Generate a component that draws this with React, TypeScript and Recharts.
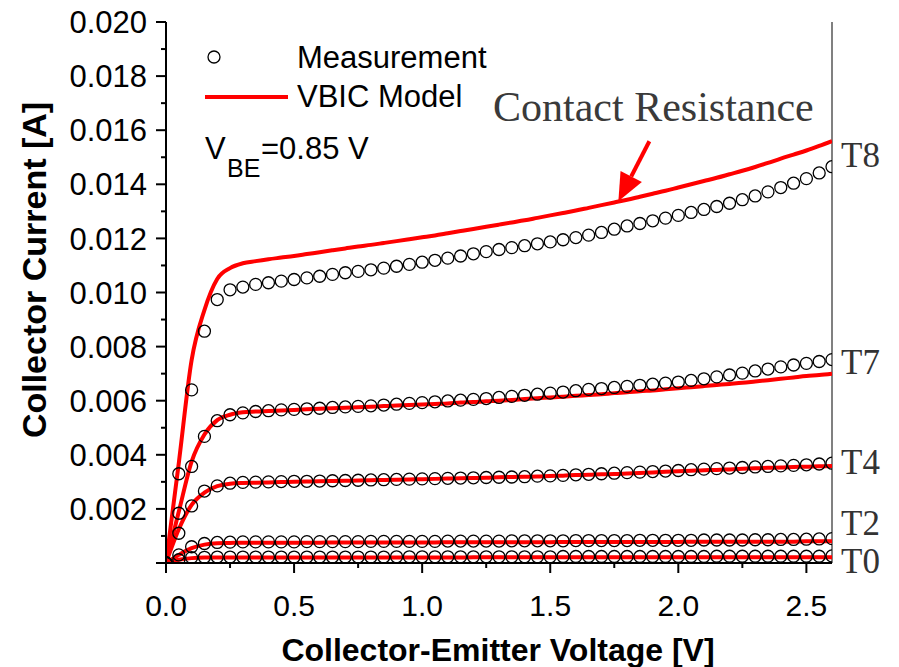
import { ComposedChart, Line, XAxis, YAxis, ReferenceLine } from 'recharts';

// collector-emitter voltage grid [V]
const VCE = [
  0, 0.05, 0.1, 0.15, 0.2, 0.25, 0.3, 0.35, 0.4, 0.45,
  0.5, 0.55, 0.6, 0.65, 0.7, 0.75, 0.8, 0.85, 0.9, 0.95,
  1.0, 1.05, 1.1, 1.15, 1.2, 1.25, 1.3, 1.35, 1.4, 1.45,
  1.5, 1.55, 1.6, 1.65, 1.7, 1.75, 1.8, 1.85, 1.9, 1.95,
  2.0, 2.05, 2.1, 2.15, 2.2, 2.25, 2.3, 2.35, 2.4, 2.45,
  2.5, 2.55, 2.6,
];

// measured collector current [mA]
const MEAS_T0 = [
  0, 0.12, 0.2, 0.21, 0.22, 0.22, 0.22, 0.22, 0.22, 0.22,
  0.22, 0.22, 0.22, 0.22, 0.22, 0.22, 0.22, 0.22, 0.23, 0.23,
  0.23, 0.23, 0.23, 0.23, 0.23, 0.23, 0.23, 0.23, 0.23, 0.23,
  0.23, 0.24, 0.24, 0.24, 0.24, 0.24, 0.24, 0.24, 0.24, 0.24,
  0.24, 0.24, 0.24, 0.25, 0.25, 0.25, 0.25, 0.25, 0.25, 0.25,
  0.25, 0.25, 0.26,
];
const MEAS_T2 = [
  0, 0.3, 0.6, 0.72, 0.76, 0.77, 0.78, 0.78, 0.78, 0.78,
  0.78, 0.79, 0.79, 0.79, 0.79, 0.79, 0.8, 0.8, 0.8, 0.8,
  0.8, 0.8, 0.81, 0.81, 0.81, 0.81, 0.81, 0.82, 0.82, 0.82,
  0.82, 0.82, 0.83, 0.83, 0.83, 0.83, 0.83, 0.84, 0.84, 0.84,
  0.84, 0.84, 0.85, 0.85, 0.85, 0.85, 0.86, 0.86, 0.87, 0.87,
  0.88, 0.89, 0.9,
];
const MEAS_T4 = [
  0, 1.1, 2.11, 2.66, 2.85, 2.95, 2.98, 2.99, 3.0, 3.01,
  3.02, 3.02, 3.03, 3.04, 3.05, 3.06, 3.07, 3.08, 3.09, 3.1,
  3.11, 3.12, 3.13, 3.14, 3.15, 3.16, 3.17, 3.18, 3.19, 3.21,
  3.22, 3.24, 3.26, 3.28, 3.3, 3.32, 3.34, 3.36, 3.38, 3.4,
  3.42, 3.45, 3.47, 3.49, 3.51, 3.53, 3.55, 3.57, 3.59, 3.61,
  3.63, 3.66, 3.69,
];
const MEAS_T7 = [
  0, 1.84, 3.57, 4.68, 5.26, 5.48, 5.55, 5.6, 5.63, 5.66,
  5.68, 5.7, 5.72, 5.75, 5.77, 5.79, 5.81, 5.84, 5.87, 5.9,
  5.93, 5.96, 5.99, 6.02, 6.05, 6.08, 6.12, 6.16, 6.2, 6.24,
  6.28, 6.32, 6.37, 6.42, 6.45, 6.49, 6.53, 6.57, 6.61, 6.65,
  6.69, 6.75, 6.81, 6.88, 6.95, 7.02, 7.1, 7.17, 7.25, 7.32,
  7.38, 7.45, 7.52,
];
const MEAS_T8 = [
  0, 3.3, 6.4, 8.57, 9.74, 10.1, 10.2, 10.3, 10.36, 10.42,
  10.48, 10.54, 10.6, 10.67, 10.73, 10.78, 10.84, 10.9, 10.97, 11.04,
  11.12, 11.19, 11.27, 11.35, 11.43, 11.51, 11.59, 11.66, 11.73, 11.8,
  11.87, 11.95, 12.03, 12.12, 12.22, 12.34, 12.46, 12.55, 12.65, 12.75,
  12.85, 12.96, 13.07, 13.18, 13.3, 13.43, 13.57, 13.72, 13.88, 14.04,
  14.21, 14.42, 14.65,
];

// VBIC model collector current [mA]
const VBIC_T0 = [
  0, 0.12, 0.18, 0.2, 0.2, 0.2, 0.2, 0.2, 0.2, 0.2,
  0.2, 0.2, 0.2, 0.2, 0.2, 0.2, 0.2, 0.2, 0.2, 0.2,
  0.2, 0.2, 0.2, 0.2, 0.21, 0.21, 0.21, 0.21, 0.21, 0.21,
  0.21, 0.21, 0.21, 0.21, 0.21, 0.21, 0.21, 0.21, 0.21, 0.21,
  0.21, 0.21, 0.21, 0.21, 0.21, 0.21, 0.21, 0.21, 0.21, 0.21,
  0.21, 0.21, 0.21,
];
const VBIC_T2 = [
  0, 0.3, 0.55, 0.68, 0.73, 0.74, 0.75, 0.75, 0.75, 0.75,
  0.75, 0.75, 0.75, 0.76, 0.76, 0.76, 0.76, 0.76, 0.76, 0.76,
  0.76, 0.76, 0.77, 0.77, 0.77, 0.77, 0.77, 0.77, 0.77, 0.77,
  0.77, 0.78, 0.78, 0.78, 0.78, 0.78, 0.78, 0.78, 0.78, 0.78,
  0.78, 0.79, 0.79, 0.79, 0.79, 0.79, 0.79, 0.79, 0.79, 0.79,
  0.8, 0.8, 0.8,
];
const VBIC_T4 = [
  0, 1.25, 2.15, 2.6, 2.84, 2.93, 2.96, 2.97, 2.98, 2.99,
  3.0, 3.01, 3.02, 3.03, 3.04, 3.05, 3.06, 3.07, 3.08, 3.09,
  3.1, 3.11, 3.12, 3.13, 3.14, 3.15, 3.17, 3.18, 3.19, 3.2,
  3.22, 3.23, 3.25, 3.26, 3.28, 3.29, 3.31, 3.33, 3.35, 3.37,
  3.39, 3.41, 3.43, 3.44, 3.46, 3.48, 3.5, 3.52, 3.53, 3.55,
  3.56, 3.58, 3.59,
];
const VBIC_T7 = [
  0, 1.9, 3.75, 4.75, 5.28, 5.48, 5.57, 5.6, 5.62, 5.64,
  5.66, 5.68, 5.7, 5.72, 5.74, 5.76, 5.78, 5.8, 5.82, 5.84,
  5.86, 5.88, 5.9, 5.93, 5.95, 5.98, 6.0, 6.03, 6.06, 6.09,
  6.12, 6.15, 6.18, 6.21, 6.24, 6.28, 6.31, 6.35, 6.38, 6.42,
  6.46, 6.5, 6.54, 6.58, 6.62, 6.66, 6.71, 6.76, 6.81, 6.86,
  6.91, 6.95, 7.0,
];
const VBIC_T8 = [
  0, 3.7, 7.5, 9.35, 10.5, 10.9, 11.08, 11.16, 11.23, 11.29,
  11.35, 11.42, 11.49, 11.56, 11.63, 11.7, 11.76, 11.83, 11.9, 11.97,
  12.04, 12.11, 12.19, 12.27, 12.35, 12.43, 12.51, 12.59, 12.67, 12.76,
  12.85, 12.94, 13.03, 13.13, 13.23, 13.33, 13.43, 13.54, 13.65, 13.76,
  13.88, 14.0, 14.12, 14.24, 14.37, 14.5, 14.64, 14.79, 14.95, 15.1,
  15.25, 15.42, 15.6,
];

const X_TICKS = [0, 0.25, 0.5, 0.75, 1.0, 1.25, 1.5, 1.75, 2.0, 2.25, 2.5];
const Y_TICKS = [0, 1, 2, 3, 4, 5, 6, 7, 8, 9, 10, 11, 12, 13, 14, 15, 16, 17, 18, 19, 20];

// curve end labels: [label, current level in mA where the label sits]
const CURVE_LABELS = [
  { name: 'T8', y: 15.1 },
  { name: 'T7', y: 7.45 },
  { name: 'T4', y: 3.75 },
  { name: 'T2', y: 1.5 },
  { name: 'T0', y: 0.1 },
];

const SANS = "'Liberation Sans', Arial, Helvetica, sans-serif";
const SERIF = "'Liberation Serif', 'Times New Roman', Times, serif";
const RED = '#ff0000';

const rows = VCE.map((v, i) => ({
  v,
  m0: MEAS_T0[i], m2: MEAS_T2[i], m4: MEAS_T4[i], m7: MEAS_T7[i], m8: MEAS_T8[i],
  s0: VBIC_T0[i], s2: VBIC_T2[i], s4: VBIC_T4[i], s7: VBIC_T7[i], s8: VBIC_T8[i],
}));

const XTick = (props: any) => {
  const { x, y, payload } = props;
  const v = payload.value;
  const major = Math.abs(v * 2 - Math.round(v * 2)) < 1e-6;
  return (
    <g>
      <line x1={x} x2={x} y1={y} y2={y + (major ? 10 : 5)} stroke="#000" strokeWidth={2} />
      {major && (
        <text x={x} y={y + 53} textAnchor="middle" fontSize={30} fontFamily={SANS} fill="#000">
          {v.toFixed(1)}
        </text>
      )}
    </g>
  );
};

const YTick = (props: any) => {
  const { x, y, payload } = props;
  const v = payload.value;
  const major = v % 2 === 0;
  return (
    <g>
      <line x1={x - (major ? 10 : 5)} x2={x} y1={y} y2={y} stroke="#000" strokeWidth={2} />
      {major && v > 0 && (
        <text x={x - 19} y={y} dy="0.36em" textAnchor="end" fontSize={31} fontFamily={SANS} fill="#000">
          {(v / 1000).toFixed(3)}
        </text>
      )}
    </g>
  );
};

// arrow pointing at the T8 model curve
const Arrow = (props: any) => {
  const { x1, y1, x2, y2 } = props;
  const dx = x2 - x1;
  const dy = y2 - y1;
  const len = Math.sqrt(dx * dx + dy * dy);
  const ux = dx / len;
  const uy = dy / len;
  const bx = x2 - ux * 28;
  const by = y2 - uy * 28;
  const hw = 12;
  return (
    <g>
      <line x1={x1} y1={y1} x2={bx} y2={by} stroke={RED} strokeWidth={4} />
      <polygon
        points={`${x2},${y2} ${bx - uy * hw},${by + ux * hw} ${bx + uy * hw},${by - ux * hw}`}
        fill={RED}
      />
    </g>
  );
};

const meas = ['m0', 'm2', 'm4', 'm7', 'm8'];
const model = ['s0', 's2', 's4', 's7', 's8'];

export default function App() {
  return (
    <div style={{ position: 'absolute', left: 0, top: 0, width: 899, height: 667, background: '#fff' }}>
      <ComposedChart width={899} height={667} data={rows} margin={{ top: 22, right: 67, left: 66, bottom: 44 }}>
        <XAxis
          dataKey="v"
          type="number"
          domain={[0, 2.6]}
          ticks={X_TICKS}
          interval={0}
          allowDataOverflow
          height={60}
          tickSize={0}
          tickMargin={0}
          tickLine={false}
          axisLine={{ stroke: '#000', strokeWidth: 2 }}
          tick={XTick}
        />
        <YAxis
          type="number"
          domain={[0, 20]}
          ticks={Y_TICKS}
          interval={0}
          allowDataOverflow
          width={100}
          tickSize={0}
          tickMargin={0}
          tickLine={false}
          axisLine={{ stroke: '#000', strokeWidth: 2 }}
          tick={YTick}
        />
        <ReferenceLine x={2.6} stroke="#808080" strokeWidth={2} ifOverflow="visible" />
        {meas.map((k) => (
          <Line
            key={k}
            dataKey={k}
            stroke="none"
            isAnimationActive={false}
            activeDot={false}
            dot={{ r: 6, stroke: '#000', strokeWidth: 1.3, fill: 'none' }}
          />
        ))}
        {model.map((k) => (
          <Line
            key={k}
            dataKey={k}
            type="monotone"
            stroke={RED}
            strokeWidth={4}
            dot={false}
            activeDot={false}
            isAnimationActive={false}
          />
        ))}
        <ReferenceLine
          segment={[{ x: 1.887, y: 15.59 }, { x: 1.766, y: 13.37 }]}
          ifOverflow="visible"
          shape={Arrow}
        />
      </ComposedChart>
      <svg
        width={899}
        height={667}
        style={{ position: 'absolute', left: 0, top: 0, pointerEvents: 'none' }}
      >
        {/* legend */}
        <circle cx={214} cy={57} r={6} stroke="#000" strokeWidth={1.3} fill="none" />
        <text x={297} y={68} fontSize={31} fontFamily={SANS} fill="#000">Measurement</text>
        <line x1={205} x2={288} y1={97} y2={97} stroke={RED} strokeWidth={4} />
        <text x={297} y={107} fontSize={31} fontFamily={SANS} fill="#000">VBIC Model</text>
        <text x={205} y={159} fontSize={31} fontFamily={SANS} fill="#000">V</text>
        <text x={227} y={177} fontSize={25} fontFamily={SANS} fill="#000">BE</text>
        <text x={261} y={159} fontSize={31} fontFamily={SANS} fill="#000">=0.85 V</text>
        <text x={493} y={121} fontSize={42} fontFamily={SERIF} fill="#3a3a3a">Contact Resistance</text>
        {/* axis titles */}
        <text x={498} y={661} textAnchor="middle" fontSize={32} fontWeight="bold" fontFamily={SANS} fill="#000">
          Collector-Emitter Voltage [V]
        </text>
        <text
          x={0}
          y={0}
          transform="translate(46 270) rotate(-90)"
          textAnchor="middle"
          fontSize={34}
          fontWeight="bold"
          fontFamily={SANS}
          fill="#000"
        >
          Collector Current [A]
        </text>
        {/* curve names */}
        {CURVE_LABELS.map((c) => (
          <text
            key={c.name}
            x={841}
            y={563 - c.y * 27.05}
            dy="0.35em"
            fontSize={35}
            fontFamily={SERIF}
            fill="#333"
          >
            {c.name}
          </text>
        ))}
      </svg>
    </div>
  );
}
